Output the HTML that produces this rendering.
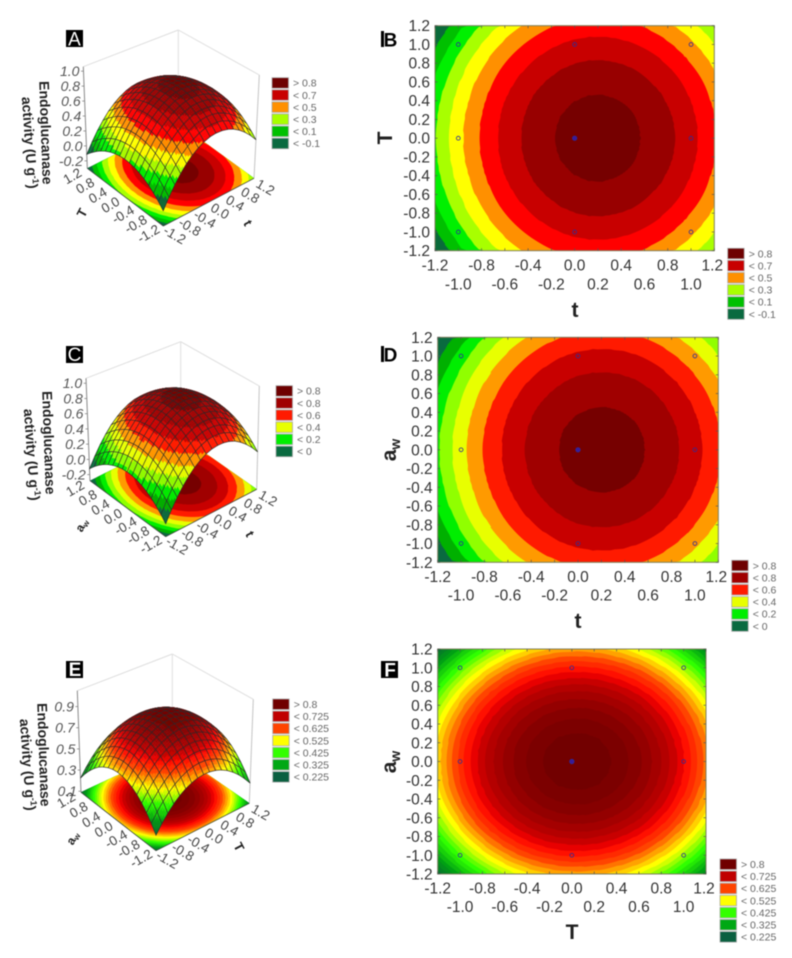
<!DOCTYPE html>
<html lang="en">
<head>
<meta charset="utf-8">
<title>Endoglucanase activity response surfaces</title>
<style>
html,body{margin:0;padding:0;background:#fff;}
svg{display:block;filter:blur(0.45px);font-family:"Liberation Sans",sans-serif;}
</style>
</head>
<body>
<svg id="figure" xmlns="http://www.w3.org/2000/svg" width="792" height="958" viewBox="0 0 792 958">
  <rect width="792" height="958" fill="#fff"/>
  <g id="surfaces"></g>
  <g id="contours"></g>

  <g font-weight="bold" fill="#222">
    <text font-size="14" text-anchor="middle" transform="translate(41,133) rotate(88)">Endoglucanase</text>
    <text font-size="14" text-anchor="middle" transform="translate(25,143) rotate(86)">activity (U g<tspan font-size="9" dy="-5">-1</tspan><tspan dy="5">)</tspan></text>
    <text font-size="14" text-anchor="middle" transform="translate(44,443) rotate(88)">Endoglucanase</text>
    <text font-size="14" text-anchor="middle" transform="translate(27,455) rotate(86)">activity (U g<tspan font-size="9" dy="-5">-1</tspan><tspan dy="5">)</tspan></text>
    <text font-size="14" text-anchor="middle" transform="translate(39,755) rotate(88)">Endoglucanase</text>
    <text font-size="14" text-anchor="middle" transform="translate(23,765) rotate(86)">activity (U g<tspan font-size="9" dy="-5">-1</tspan><tspan dy="5">)</tspan></text>

    <text font-size="13" text-anchor="middle" transform="translate(86,215) rotate(-62)">T</text>
    <text font-size="13" text-anchor="middle" transform="translate(244,225) rotate(62)">t</text>
    <text font-size="12" text-anchor="middle" transform="translate(85,527) rotate(-62)">a<tspan font-size="8" dy="2">w</tspan></text>
    <text font-size="13" text-anchor="middle" transform="translate(246,536) rotate(62)">t</text>
    <text font-size="12" text-anchor="middle" transform="translate(76,840) rotate(-62)">a<tspan font-size="8" dy="2">w</tspan></text>
    <text font-size="13" text-anchor="middle" transform="translate(235,849) rotate(62)">T</text>

    <text font-size="21" text-anchor="middle" x="575" y="317">t</text>
    <text font-size="21" text-anchor="middle" transform="translate(392,138) rotate(-90)">T</text>
    <text font-size="21" text-anchor="middle" x="578" y="628">t</text>
    <text font-size="21" text-anchor="middle" transform="translate(396,450) rotate(-90)">a<tspan font-size="14" dy="4">w</tspan></text>
    <text font-size="21" text-anchor="middle" x="572" y="939">T</text>
    <text font-size="21" text-anchor="middle" transform="translate(396,762) rotate(-90)">a<tspan font-size="14" dy="4">w</tspan></text>
  </g>

  <g font-weight="bold" text-anchor="middle" font-size="19">
    <rect x="66" y="30" width="17" height="17" fill="#000"/>
    <text x="74.5" y="45.5" fill="#fff" font-weight="normal">A</text>
    <rect x="66" y="346" width="17" height="17" fill="#000"/>
    <text x="74.5" y="361" fill="#fff" font-weight="normal">C</text>
    <rect x="66" y="661" width="17" height="17" fill="#000"/>
    <text x="75" y="676" fill="#fff">E</text>
    <rect x="381" y="31" width="3" height="16" fill="#000"/>
    <text x="390.5" y="46.5" fill="#000">B</text>
    <rect x="381" y="346" width="3" height="16" fill="#000"/>
    <text x="390.5" y="361.5" fill="#000">D</text>
    <rect x="381" y="661" width="17" height="17" fill="#000"/>
    <text x="390" y="676.5" fill="#fff">F</text>
  </g>
</svg>

<script>
// ---- shared axis data ----
const gridNodes = [-1.2,-1.08,-0.96,-0.84,-0.72,-0.6,-0.48,-0.36,-0.24,-0.12,0,0.12,0.24,0.36,0.48,0.6,0.72,0.84,0.96,1.08,1.2];
const contourTicks = [-1.2,-1.0,-0.8,-0.6,-0.4,-0.2,0,0.2,0.4,0.6,0.8,1.0,1.2];
const floorTicks = [-1.2,-0.8,-0.4,0,0.4,0.8,1.2];
const designLevels = [-1,0,1];

// ---- panels A & B: activity vs t and T ----
const abPeak = 0.845;
const abProfileT = [-0.657,-0.549,-0.451,-0.362,-0.284,-0.214,-0.155,-0.105,-0.065,-0.034,-0.013,-0.002,-0.001,-0.009,-0.026,-0.054,-0.091,-0.137,-0.194,-0.259,-0.335];
const abProfileTemp = [-0.302,-0.245,-0.194,-0.148,-0.109,-0.076,-0.048,-0.027,-0.012,-0.003,0,-0.003,-0.012,-0.027,-0.048,-0.076,-0.109,-0.148,-0.194,-0.245,-0.302];
const abLevels = [0,0.1,0.2,0.3,0.4,0.5,0.6,0.7,0.8];
const abColours = ["#0a6a3a","#00c000","#00f000","#a8ff00","#ffff00","#ff9000","#ff0000","#c80000","#980000","#760000"];
const abLegendLabels = ["> 0.8","< 0.7","< 0.5","< 0.3","< 0.1","< -0.1"];
const abLegendColours = ["#6e0000","#c80000","#ff9000","#a8ff00","#00c000","#0a6a40"];
const aZTicks = [-0.2,0,0.2,0.4,0.6,0.8,1.0];

// ---- panels C & D: activity vs t and aw ----
const cdPeak = 0.845;
const cdProfileT = [-0.661,-0.553,-0.455,-0.365,-0.287,-0.217,-0.157,-0.107,-0.067,-0.035,-0.014,-0.003,-0.001,-0.008,-0.025,-0.052,-0.089,-0.135,-0.191,-0.256,-0.331];
const cdProfileAw = [-0.307,-0.248,-0.196,-0.150,-0.110,-0.077,-0.049,-0.028,-0.012,-0.003,0,-0.003,-0.012,-0.028,-0.049,-0.077,-0.110,-0.150,-0.196,-0.248,-0.307];
const cdLevels = [0,0.1,0.2,0.3,0.4,0.5,0.6,0.7,0.8];
const cdColours = ["#0a6a40","#00b000","#00ee00","#90ff00","#e8ff00","#ff9a00","#ff1a00","#c80000","#a00000","#760000"];
const cdLegendLabels = ["> 0.8","< 0.8","< 0.6","< 0.4","< 0.2","< 0"];
const cdLegendColours = ["#6e0000","#a00000","#ff1a00","#e8ff00","#00ee00","#0a6a40"];
const cZTicks = [-0.2,0,0.2,0.4,0.6,0.8,1.0];

// ---- panels E & F: activity vs T and aw ----
const efPeak = 0.87;
const efProfileTemp = [-0.336,-0.275,-0.219,-0.170,-0.127,-0.091,-0.060,-0.036,-0.018,-0.006,-0.001,-0.001,-0.008,-0.021,-0.040,-0.065,-0.097,-0.134,-0.178,-0.228,-0.284];
const efProfileAw = [-0.310,-0.251,-0.198,-0.152,-0.111,-0.077,-0.049,-0.028,-0.012,-0.003,0,-0.003,-0.012,-0.028,-0.049,-0.077,-0.111,-0.152,-0.198,-0.251,-0.310];
const efLevels = [0.225,0.25,0.275,0.3,0.325,0.35,0.375,0.4,0.425,0.45,0.475,0.5,0.525,0.55,0.575,0.6,0.625,0.65,0.675,0.7,0.725,0.75,0.775,0.8,0.825,0.85];
const efColours = ["#0a6040","#087030","#058025","#03901c","#01a014","#0cb80f","#18d00a","#24e805","#30ff00","#60ff00","#98ff00","#d0ff00","#ffff00","#ffd000","#ffa200","#ff7300","#ff4400","#ff2a00","#ff1000","#e80000","#c80000","#b40000","#a40000","#940000","#860000","#7c0000","#720000"];
const efLegendLabels = ["> 0.8","< 0.725","< 0.625","< 0.525","< 0.425","< 0.325","< 0.225"];
const efLegendColours = ["#700000","#c00000","#ff4400","#ffff00","#33ff00","#00a814","#0a6040"];
const eZTicks = [0.1,0.3,0.5,0.7,0.9];

// ---- layout (pixels) ----
const NS = "http://www.w3.org/2000/svg";
const surfacesRoot = document.getElementById("surfaces");
const contoursRoot = document.getElementById("contours");
const meshCells = 16;
const facetSplit = 4;

const surfacePanels = [
  { id:"a", peak:abPeak, xp:abProfileT, yp:abProfileTemp, levels:abLevels, colours:abColours, zTicks:aZTicks, zMin:-0.30, zMax:1.06, zFixed:1,
    fb:[163.3,226], lb:[87.3,168.3], rb:[254,178.3], bb:[178.3,123.3], ft:[163,115], lt:[83.3,66.7], rt:[259.3,75], bt:[178.3,30],
    legendLabels:abLegendLabels, legendColours:abLegendColours, lx:272, ly:77.7 },
  { id:"c", peak:cdPeak, xp:cdProfileT, yp:cdProfileAw, levels:cdLevels, colours:cdColours, zTicks:cZTicks, zMin:-0.28, zMax:1.065, zFixed:1,
    fb:[165.7,536.7], lb:[90,480.7], rb:[256.7,489.3], bb:[180.7,436], ft:[165.7,425.7], lt:[86,378.3], rt:[259.3,386], bt:[180.7,341.7],
    legendLabels:cdLegendLabels, legendColours:cdLegendColours, lx:276, ly:385.7 },
  { id:"e", peak:efPeak, xp:efProfileTemp, yp:efProfileAw, levels:efLevels, colours:efColours, zTicks:eZTicks, zMin:0.09, zMax:1.05, zFixed:1,
    fb:[156,850.7], lb:[81,792.3], rb:[249.3,803.3], bb:[172.3,750], ft:[156,739.7], lt:[77.3,690.7], rt:[253.3,699.3], bt:[172.3,654],
    legendLabels:efLegendLabels, legendColours:efLegendColours, lx:272.7, ly:699 }
];

const contourPanels = [
  { id:"b", peak:abPeak, xp:abProfileT, yp:abProfileTemp, levels:abLevels, colours:abColours, x0:435, x1:714.3, y0:25.7, y1:250.7, row1:265, row2:284,
    legendLabels:abLegendLabels, legendColours:abLegendColours, lx:727.7, ly:248.3 },
  { id:"d", peak:cdPeak, xp:cdProfileT, yp:cdProfileAw, levels:cdLevels, colours:cdColours, x0:437.7, x1:718.3, y0:337.3, y1:562.3, row1:576.7, row2:595,
    legendLabels:cdLegendLabels, legendColours:cdLegendColours, lx:731.7, ly:560.3 },
  { id:"f", peak:efPeak, xp:efProfileTemp, yp:efProfileAw, levels:efLevels, colours:efColours, x0:437.7, x1:706, y0:649, y1:874, row1:888, row2:906.7,
    legendLabels:efLegendLabels, legendColours:efLegendColours, lx:720, ly:859 }
];

// ---- helpers ----
function make(tag, parent, name) {
  const el = document.createElementNS(NS, tag);
  
  
  parent.appendChild(el);
  return el;
}
function addLabel(parent, name, str, x, y, size, fill, anchor, rotate, italic) {
  const t = make("text", parent, name);
  t.textContent = str;
  t.setAttribute("font-size", size);
  t.setAttribute("fill", fill);
  t.setAttribute("text-anchor", anchor);
  if (italic) t.setAttribute("font-style", "italic");
  if (rotate) t.setAttribute("transform", "translate(" + x + "," + y + ") rotate(" + rotate + ")");
  else { t.setAttribute("x", x); t.setAttribute("y", y); }
  return t;
}
function addLine(parent, name, a, b, stroke, width) {
  const l = make("line", parent, name);
  l.setAttribute("x1", a[0]); l.setAttribute("y1", a[1]);
  l.setAttribute("x2", b[0]); l.setAttribute("y2", b[1]);
  l.setAttribute("stroke", stroke);
  l.setAttribute("stroke-width", width);
}
function addPoly(parent, name, pts, fill, stroke, width) {
  const p = make("polygon", parent, name);
  p.setAttribute("points", pts.map(function (q) { return q[0].toFixed(2) + "," + q[1].toFixed(2); }).join(" "));
  p.setAttribute("fill", fill);
  p.setAttribute("stroke", stroke);
  p.setAttribute("stroke-width", width);
  return p;
}
function profileAt(profile, v) {
  const n = gridNodes.length - 1;
  const pos = Math.max(0, Math.min(n, (v - gridNodes[0]) / (gridNodes[n] - gridNodes[0]) * n));
  const i = Math.min(n - 1, Math.floor(pos));
  return profile[i] + (profile[i + 1] - profile[i]) * (pos - i);
}
function field(p, x, y) { return p.peak + profileAt(p.xp, x) + profileAt(p.yp, y); }
function bandColour(p, z) {
  let k = 0;
  while (k < p.levels.length && z >= p.levels[k]) k++;
  return p.colours[k];
}
function peakLocation(p) {
  let bx = 0, by = 0, best = -Infinity;
  gridNodes.forEach(function (gx, i) { if (p.xp[i] > best) { best = p.xp[i]; bx = gx; } });
  best = -Infinity;
  gridNodes.forEach(function (gy, j) { if (p.yp[j] > best) { best = p.yp[j]; by = gy; } });
  return [bx, by];
}
// trace one iso-level as a star-shaped outline around the peak, limited to the plot square
function isoOutline(p, level) {
  const c = peakLocation(p);
  const lim = gridNodes[gridNodes.length - 1];
  if (field(p, c[0], c[1]) < level) return null;
  const angles = [];
  for (let i = 0; i < 180; i++) angles.push(i * Math.PI / 90);
  [[lim, lim], [lim, -lim], [-lim, lim], [-lim, -lim]].forEach(function (k) {
    let a = Math.atan2(k[1] - c[1], k[0] - c[0]);
    if (a < 0) a += Math.PI * 2;
    angles.push(a);
  });
  angles.sort(function (a, b) { return a - b; });
  return angles.map(function (a) {
    const dx = Math.cos(a), dy = Math.sin(a);
    const rx = dx > 1e-9 ? (lim - c[0]) / dx : dx < -1e-9 ? (-lim - c[0]) / dx : Infinity;
    const ry = dy > 1e-9 ? (lim - c[1]) / dy : dy < -1e-9 ? (-lim - c[1]) / dy : Infinity;
    const rMax = Math.min(rx, ry);
    let r = 0;
    while (r < rMax && field(p, c[0] + dx * r, c[1] + dy * r) >= level) r += 0.008;
    r = Math.min(r, rMax);
    return [c[0] + dx * r, c[1] + dy * r];
  });
}
function drawLegend(parent, p, textGap, prefix) {
  const g = make("g", parent, prefix + "-legend");
  p.legendLabels.forEach(function (label, i) {
    const y = p.ly + i * 12.1;
    const s = make("rect", g, prefix + "-legend-swatch");
    s.setAttribute("x", p.lx); s.setAttribute("y", y);
    s.setAttribute("width", 16.5); s.setAttribute("height", 10.5);
    s.setAttribute("fill", p.legendColours[i]);
    s.setAttribute("stroke", "#aaa"); s.setAttribute("stroke-width", 0.8);
    addLabel(g, prefix + "-legend-label", label, p.lx + textGap, y + 9, 10.5, "#666", "start");
  });
}

// ---- 3-D surfaces ----
function drawSurface(p) {
  const g = make("g", surfacesRoot, "surface-plot-" + p.id);
  const lim = gridNodes[gridNodes.length - 1];
  const unit = function (v) { return (v + lim) / (2 * lim); };
  const blend = function (f, r, l, b, u, v) {
    return [0, 1].map(function (c) {
      return (1 - u) * (1 - v) * f[c] + u * (1 - v) * r[c] + (1 - u) * v * l[c] + u * v * b[c];
    });
  };
  const project = function (x, y, z) {
    const u = unit(x), v = unit(y), h = (z - p.zMin) / (p.zMax - p.zMin);
    const bottom = blend(p.fb, p.rb, p.lb, p.bb, u, v);
    const top = blend(p.ft, p.rt, p.lt, p.bt, u, v);
    return [bottom[0] + (top[0] - bottom[0]) * h, bottom[1] + (top[1] - bottom[1]) * h];
  };
  // back walls
  const walls = make("g", g, "surface-box-" + p.id);
  addLine(walls, "box-edge", p.lt, p.bt, "#dedede", 1);
  addLine(walls, "box-edge", p.bt, p.rt, "#dedede", 1);
  addLine(walls, "box-edge", p.bb, p.bt, "#dedede", 1);
  addLine(walls, "box-edge", p.rb, p.rt, "#c4c4c4", 1);
  addLine(walls, "z-axis-line", p.lb, p.lt, "#8a8a8a", 1);

  // floor contour projection
  const floor = make("g", g, "surface-floor-contour-" + p.id);
  addPoly(floor, "floor-band", [project(-lim, -lim, p.zMin), project(lim, -lim, p.zMin), project(lim, lim, p.zMin), project(-lim, lim, p.zMin)], p.colours[0], p.colours[0], 0.3);
  p.levels.forEach(function (lev, k) {
    const o = isoOutline(p, lev);
    if (!o) return;
    addPoly(floor, "floor-band", o.map(function (q) { return project(q[0], q[1], p.zMin); }), p.colours[k + 1], p.colours[k + 1], 0.2);
  });
  addLine(floor, "floor-front-edge-left", p.fb, p.lb, "#444", 0.8);
  addLine(floor, "floor-front-edge-right", p.fb, p.rb, "#444", 0.8);

  // surface mesh painted back to front
  const mesh = make("g", g, "surface-mesh-" + p.id);
  const cellSize = 2 * lim / meshCells;
  for (let i = meshCells - 1; i >= 0; i--) {
    for (let j = meshCells - 1; j >= 0; j--) {
      const x0 = -lim + i * cellSize, x1 = x0 + cellSize, y0 = -lim + j * cellSize, y1 = y0 + cellSize;
      for (let a = facetSplit - 1; a >= 0; a--) {
        for (let b = facetSplit - 1; b >= 0; b--) {
          const xa = x0 + cellSize * a / facetSplit, xb = x0 + cellSize * (a + 1) / facetSplit;
          const ya = y0 + cellSize * b / facetSplit, yb = y0 + cellSize * (b + 1) / facetSplit;
          const c = bandColour(p, field(p, (xa + xb) / 2, (ya + yb) / 2));
          addPoly(mesh, "surface-facet", [
            project(xa, ya, field(p, xa, ya)), project(xb, ya, field(p, xb, ya)),
            project(xb, yb, field(p, xb, yb)), project(xa, yb, field(p, xa, yb))
          ], c, c, 0.25);
        }
      }
      addPoly(mesh, "surface-mesh-cell", [
        project(x0, y0, field(p, x0, y0)), project(x1, y0, field(p, x1, y0)),
        project(x1, y1, field(p, x1, y1)), project(x0, y1, field(p, x0, y1))
      ], "none", "#2c2c2c", 0.6);
    }
  }

  // tick labels
  const ticks = make("g", g, "surface-ticks-" + p.id);
  p.zTicks.forEach(function (z) {
    const at = project(-lim, lim, z);
    addLabel(ticks, "z-tick-label", z.toFixed(p.zFixed), at[0] - 4, at[1] + 5, 14, "#555", "end", 0, true);
    addLine(ticks, "z-tick", at, [at[0] - 2.5, at[1]], "#777", 0.7);
  });
  floorTicks.forEach(function (v) {
    const s = v.toFixed(1);
    const onLeft = project(-lim, v, p.zMin);
    addLabel(ticks, "floor-left-tick-label", s, onLeft[0] - 12.6, onLeft[1] + 11.7, 13.4, "#444", "middle", -30);
    const onRight = project(v, -lim, p.zMin);
    addLabel(ticks, "floor-right-tick-label", s, onRight[0] + 9.1, onRight[1] + 12.9, 13.4, "#444", "middle", 30);
  });
  drawLegend(g, p, 21, "surface-" + p.id);
}

// ---- 2-D contour maps ----
function drawContour(p) {
  const g = make("g", contoursRoot, "contour-plot-" + p.id);
  const first = gridNodes[0], last = gridNodes[gridNodes.length - 1];
  const sx = function (v) { return p.x0 + (v - first) / (last - first) * (p.x1 - p.x0); };
  const sy = function (v) { return p.y1 - (v - first) / (last - first) * (p.y1 - p.y0); };

  const base = make("rect", g, "contour-band");
  base.setAttribute("x", p.x0); base.setAttribute("y", p.y0);
  base.setAttribute("width", p.x1 - p.x0); base.setAttribute("height", p.y1 - p.y0);
  base.setAttribute("fill", p.colours[0]);
  p.levels.forEach(function (lev, k) {
    const o = isoOutline(p, lev);
    if (!o) return;
    addPoly(g, "contour-band", o.map(function (q) { return [sx(q[0]), sy(q[1])]; }), p.colours[k + 1], p.colours[k + 1], 0.2);
  });

  const frame = make("rect", g, "contour-frame-" + p.id);
  frame.setAttribute("x", p.x0); frame.setAttribute("y", p.y0);
  frame.setAttribute("width", p.x1 - p.x0); frame.setAttribute("height", p.y1 - p.y0);
  frame.setAttribute("fill", "none"); frame.setAttribute("stroke", "#808060"); frame.setAttribute("stroke-width", 1);

  const ticks = make("g", g, "contour-ticks-" + p.id);
  contourTicks.forEach(function (v, i) {
    const s = v.toFixed(1);
    addLabel(ticks, "y-tick-label", s, p.x0 - 5, sy(v) + 5.5, 15.5, "#333", "end");
    addLabel(ticks, "x-tick-label", s, sx(v) + (i === 12 ? -2 : 0), (i % 2 === 0 ? p.row1 : p.row2) + 5.5, 15.5, "#333", "middle");
    addLine(ticks, "x-tick", [sx(v), p.y1], [sx(v), p.y1 - 2.5], "#555", 0.7);
    addLine(ticks, "x-tick", [sx(v), p.y0], [sx(v), p.y0 + 2.5], "#555", 0.7);
    addLine(ticks, "y-tick", [p.x0, sy(v)], [p.x0 + 2.5, sy(v)], "#555", 0.7);
    addLine(ticks, "y-tick", [p.x1, sy(v)], [p.x1 - 2.5, sy(v)], "#555", 0.7);
  });

  const pts = make("g", g, "design-points-" + p.id);
  designLevels.forEach(function (dx) {
    designLevels.forEach(function (dy) {
      const c = make("circle", pts, "design-point");
      c.setAttribute("cx", sx(dx)); c.setAttribute("cy", sy(dy));
      c.setAttribute("r", dx === 0 && dy === 0 ? 2.2 : 1.9);
      c.setAttribute("fill", dx === 0 && dy === 0 ? "#3a1a9a" : "none");
      c.setAttribute("stroke", "#2c2c9a");
      c.setAttribute("stroke-width", 0.8);
    });
  });
  drawLegend(g, p, 21, "contour-" + p.id);
}

surfacePanels.forEach(drawSurface);
contourPanels.forEach(drawContour);
</script>
</body>
</html>
